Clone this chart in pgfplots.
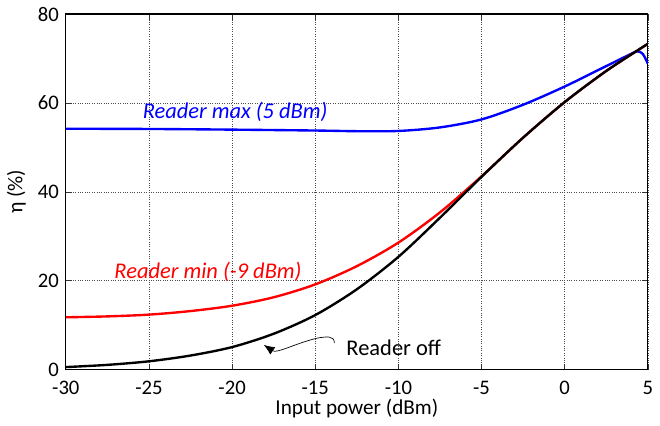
\documentclass[border=0pt]{standalone}
\usepackage{pgfplots}
\pgfplotsset{compat=1.18}
\usepackage{fontspec}
\setmainfont{Carlito}
\usetikzlibrary{arrows.meta}
\newcommand{\bigf}{\fontsize{21}{25}\selectfont}
\newcommand{\labf}{\fontsize{21.5}{25}\selectfont}
\newcommand{\annf}{\fontsize{22.8}{27}\selectfont}
\begin{document}
\bigf
\begin{tikzpicture}
\begin{axis}[
  scale only axis,
  width=589bp, height=360bp,
  xmin=-30, xmax=5, ymin=0, ymax=80,
  xtick={-30,-25,...,5}, ytick={0,20,...,80},
  /pgf/number format/assume math mode=true,
  tick label style={font=\bigf},
  label style={font=\labf},
  xticklabel style={yshift=-4pt},
  xlabel={Input power (dBm)}, ylabel={η (\%)},
  xlabel style={yshift=9pt}, ylabel style={yshift=-2pt},
  grid=major,
  major grid style={dotted, black!70, line width=0.7pt},
  axis line style={line width=1.1pt},
  tick style={black!80, line width=0.7pt},
  tick align=inside,
  major tick length=6pt,
  clip=true,
]
\addplot[blue, line width=2.4bp, smooth] coordinates {
(-30,54.2) (-25,54.15) (-20,54.0) (-15,53.8) (-12.5,53.65) (-10,53.7) (-7.5,54.5) (-5,56.3) (-2.5,59.6) (0,63.7) (2.5,68.3) (3.75,70.6) (4.35,71.6) (4.7,71.0) (5,68.8)};
\addplot[red, line width=2.4bp, smooth] coordinates {
(-30,11.8) (-27.5,12.0) (-25,12.4) (-22.5,13.2) (-20,14.4) (-17.5,16.3) (-15,19.2) (-12.5,23.3) (-10,28.6) (-7.5,35.4) (-5,43.5) (-2.5,52.2) (0,60.2) (2.5,67.2) (5,73.3)};
\addplot[black, line width=2.4bp, smooth] coordinates {
(-30,0.6) (-27.5,1.1) (-25,1.9) (-22.5,3.2) (-20,5.1) (-17.5,8.1) (-15,12.3) (-12.5,18.1) (-10,25.4) (-7.5,34.2) (-5,43.4) (-2.5,52.2) (0,60.2) (2.5,67.2) (5,73.3)};
\node[anchor=west, blue, font=\itshape\annf] at (axis cs:-25.8,58.1) {Reader max (5 dBm)};
\node[anchor=west, red, font=\itshape\annf] at (axis cs:-27.5,22.1) {Reader min (-9 dBm)};
\node[anchor=west, black, font=\annf] at (axis cs:-13.55,5.0) {Reader off};
\draw[-{Latex[length=11pt,width=9pt]}, line width=0.7pt] (axis cs:-13.85,6.0) .. controls (axis cs:-13.85,7.7) and (axis cs:-14.3,7.5) .. (axis cs:-14.9,7.1) .. controls (axis cs:-16.3,5.8) and (axis cs:-17.3,3.6) .. (axis cs:-18.1,5.6);
\end{axis}
\end{tikzpicture}
\end{document}
